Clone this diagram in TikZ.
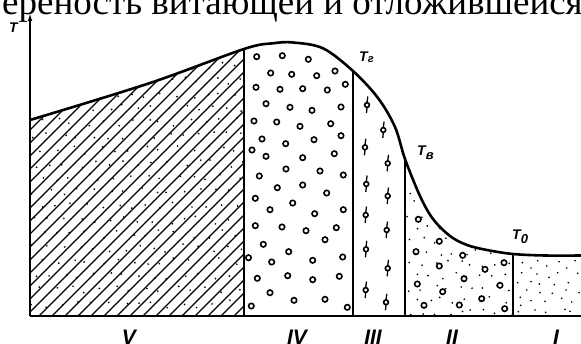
\documentclass[tikz,border=0pt]{standalone}
\usepackage{fontspec}
\setmainfont{Liberation Serif}
\newfontfamily\axfont{Liberation Sans}
\usetikzlibrary{arrows.meta}

% temperature profile along the apparatus
\newcommand\topcurve{plot[smooth,tension=0.55] coordinates {(30,120) (150,83) (244,49) (273,43.3) (293,42.5) (323,48.3) (353,71) (378,98) (395,127) (405,159) (420,196) (433,219) (450,236) (467,245) (487,250) (513,254) (545,255.5) (581,255.5)}}

\begin{document}
\begin{tikzpicture}[
  x=1pt,
  y=-1pt,
  curve/.style={
    line width=2.6pt
  },
  axis/.style={
    line width=1.9pt
  },
  border/.style={
    line width=1.6pt
  },
  hatch/.style={
    line width=1.1pt
  },
  ring/.style={
    line width=1.6pt
  },
  zonelbl/.style={
    font=\axfont\bfseries\itshape\fontsize{21}{21}\selectfont,
    anchor=base,
    inner sep=0pt
  },
  templbl/.style={
    font=\axfont\bfseries\itshape\fontsize{14}{14}\selectfont,
    anchor=base west,
    inner sep=0pt
  }
]

\useasboundingbox (0,0) rectangle (581,343);
\clip (0,0) rectangle (581,343);

\node[anchor=base west,inner sep=0pt,font=\fontsize{37}{38}\selectfont] (caption) at (2,14)
  {ереность витающей и отложившейся};

% --- zone V: hatching and dots ---
\begin{scope}
  \clip (30,0) rectangle (244,316);
  \clip \topcurve -- (581,316) -- (30,316) -- cycle;
  \foreach \c in {82,95,...,570}
    \draw[hatch] (\c-330,330) -- (\c-20,20);
  \pgfmathsetseed{11}
  \foreach \i in {0,...,14}
    \foreach \j in {0,...,18} {
      \pgfmathsetmacro\px{34+15*\i+7.5*mod(\j,2)+8*rnd-4}
      \pgfmathsetmacro\py{52+14*\j+8*rnd-4}
      \fill (\px,\py) circle (0.95pt);
    }
\end{scope}

% --- zone IV: rings ---
\foreach \x/\y in {256.7/56.7,282.3/55.7,308.3/59.3,270.7/73,291.7/74.3,316.7/75.7,335/71,
  256/87.3,280/89.3,302.7/88.7,327.3/90,345.3/84.3,266/103.7,290/107.3,312/110.3,341/107,
  254/121,276.7/122,300/126.3,330.7/123.7,262/139,285.7/143.7,314/139.7,341/135.7,
  252/150,266/156.3,302.7/157.7,334.3/153.7,259.3/176,286/169,320/171,343.3/175,
  277.3/187.7,302.7/185,326.7/193,255.3/198.3,292.7/203,270/209.7,314.7/213.7,343.3/209.7,
  255.3/225.7,282/227,306/230.7,336.3/227.7,325/239.7,263.3/244.3,288.7/251.7,
  248.5/257.7,271.7/262,312.7/260.3,342.7/257,257.3/278.3,287.7/275.7,312.7/279.7,
  339.3/276.3,270/292.7,294/300.3,325/299.3,251.3/306,347.3/307.3}
  \draw[ring] (\x,\y) circle (2.7pt);

% --- zone III: rings on stems ---
\foreach \x/\y in {367/105,383.3/130,365/147.3,387.7/163.3,366.3/184,387.7/196,
  365.7/215,386.7/230,366/249.3,387.7/268.3,365.7/290,386/302.3} {
  \draw[ring] (\x,\y) circle (2.4pt);
  \draw[hatch,line width=1.3pt] (\x+0.8,\y-8.5) -- (\x,\y-2.4) (\x,\y+2.4) -- (\x-0.5,\y+8);
}

% --- zone II: rings and dots ---
\begin{scope}
  \clip (405,0) rectangle (513,316);
  \clip \topcurve -- (581,316) -- (30,316) -- cycle;
  \pgfmathsetseed{5}
  \foreach \i in {0,...,8}
    \foreach \j in {0,...,12} {
      \pgfmathsetmacro\px{410+12.5*\i+6*mod(\j,2)+7*rnd-3.5}
      \pgfmathsetmacro\py{168+12*\j+7*rnd-3.5}
      \fill (\px,\py) circle (0.95pt);
    }
\end{scope}
\foreach \x/\y in {418.3/219.3,439.3/241.3,416/251.7,462.7/255.3,439.3/266,485/269.3,
  504/262.7,417.3/284,464/278.7,500/285.3,442.7/291.7,481.7/298.7,424/305.3,
  459.3/305,504.7/308.7}
  \draw[ring] (\x,\y) circle (2.7pt);

% --- zone I: dots ---
\foreach \x/\y in {522.3/262.7,537.7/260.7,559/261.7,575/260.7,531/268,546.7/266,
  566.7/268,521.7/272.7,537/274,549/277.3,557.7/272.7,577.7/273.3,517.7/282.7,
  531/281.7,539.3/284,554.3/284.7,568.3/282.7,526.7/290,540/292.7,552.3/293.3,
  566/290,579/292.7,520.3/297.3,531/300.7,545/301.3,561.7/298.3,571.7/302,
  520.7/305.3,535/310,545.7/312.3,565/309.3,570/311.3,518.3/311.7}
  \fill (\x,\y) circle (0.95pt);

% --- axes, profile and zone borders ---
\coordinate (origin) at (30,316);
\coordinate (ytip) at (30,12);
\coordinate (xend) at (581,316);
\draw[axis,-{Latex[length=9pt,width=4.5pt]}] (origin) -- (ytip);
\draw[axis] (origin) -- (xend);
\draw[curve] \topcurve;

\draw[border] (244,316) -- (244,49);
\draw[border] (353,316) -- (353,71);
\draw[border] (405,316) -- (405,159);
\draw[border] (513,316) -- (513,254);

% --- labels ---
\node[templbl] (tlabel) at (9,32) {T};
\node[templbl] (tg) at (359,61)
  {T\raisebox{-1.5pt}{\fontsize{11}{11}\selectfont г}};
\node[templbl] (tv) at (417,155)
  {T\raisebox{-4.5pt}{\fontsize{13}{13}\selectfont в}};
\node[templbl] (to) at (512,239)
  {T\raisebox{-4.5pt}{\fontsize{13}{13}\selectfont 0}};

\node[zonelbl] (zone5) at (129,344) {V};
\node[zonelbl] (zone4) at (297,344) {IV};
\node[zonelbl] (zone3) at (373,344) {III};
\node[zonelbl] (zone2) at (452,344) {II};
\node[zonelbl] (zone1) at (556,344) {I};

\end{tikzpicture}
\end{document}
